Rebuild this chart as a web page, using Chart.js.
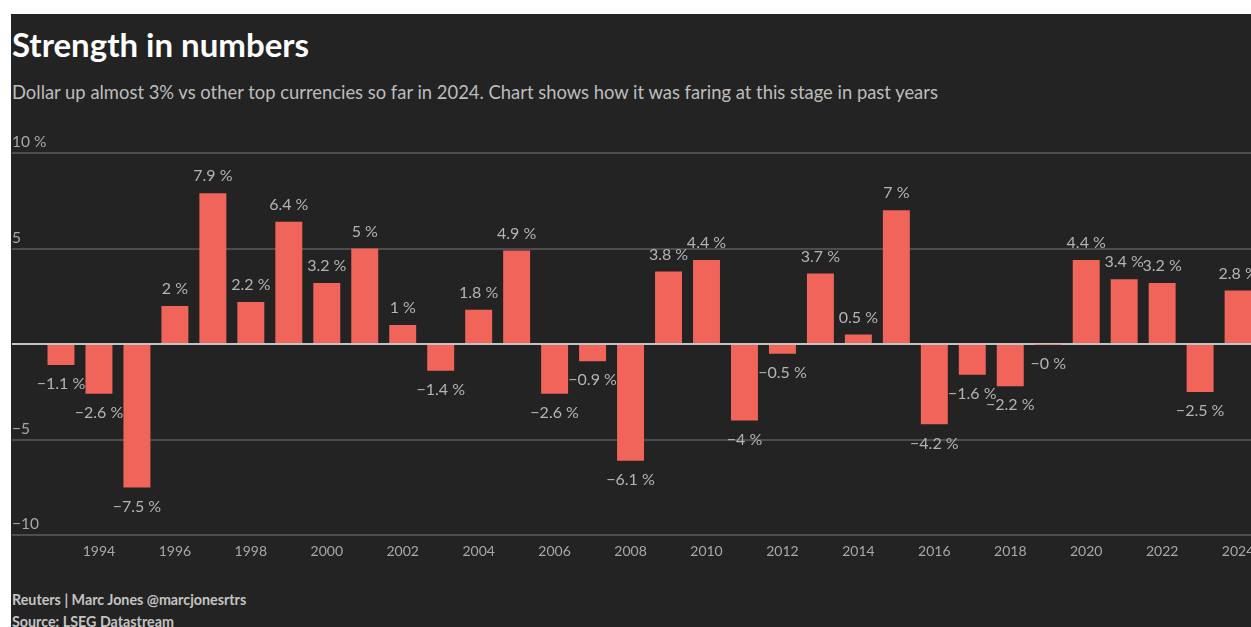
<!DOCTYPE html>
<html lang="en">
<head>
  <meta charset="UTF-8">
  <title>Strength in numbers</title>
  <script src="https://cdn.jsdelivr.net/npm/chart.js"></script>
  <style>
    body {
      margin: 0;
      background: #fff;
      font-family: Lato, "Open Sans", sans-serif;
    }
    #frame {
      position: absolute;
      left: 11px;
      top: 14px;
      width: 1240px;
      height: 613px;
      background: #232323;
      overflow: hidden;
    }
    #title {
      position: absolute;
      left: 1px;
      top: 10px;
      margin: 0;
      color: #fff;
      font-size: 33px;
      font-weight: bold;
    }
    #subtitle {
      position: absolute;
      left: 1px;
      top: 67px;
      color: #bdbdbd;
      font-size: 18.4px;
      white-space: nowrap;
    }
    #chart {
      position: absolute;
      left: 0;
      top: 106px;
    }
    .foot {
      position: absolute;
      left: 1px;
      color: #c4c4c4;
      font-size: 14.3px;
      font-weight: bold;
    }
  </style>
</head>
<body>

<div id="frame">
  <h1 id="title">Strength in numbers</h1>
  <div id="subtitle">Dollar up almost 3% vs other top currencies so far in 2024. Chart shows how it was faring at this stage in past years</div>
  <canvas id="chart" width="1300" height="448"></canvas>
  <div class="foot" style="top:577px">Reuters | Marc Jones @marcjonesrtrs</div>
  <div class="foot" style="top:599px">Source: LSEG Datastream</div>
</div>

<script>
  // dollar index change at this stage of each year, %
  const years = [1993, 1994, 1995, 1996, 1997, 1998, 1999, 2000, 2001, 2002, 2003,
    2004, 2005, 2006, 2007, 2008, 2009, 2010, 2011, 2012, 2013, 2014, 2015, 2016,
    2017, 2018, 2019, 2020, 2021, 2022, 2023, 2024];
  const changes = [-1.1, -2.6, -7.5, 2, 7.9, 2.2, 6.4, 3.2, 5, 1, -1.4,
    1.8, 4.9, -2.6, -0.9, -6.1, 3.8, 4.4, -4, -0.5, 3.7, 0.5, 7, -4.2,
    -1.6, -2.2, -0.02, 4.4, 3.4, 3.2, -2.5, 2.8];
  const yTicks = [-10, -5, 0, 5, 10];

  const BAR = "#f0645a";

  function fmt(v) {
    const r = Math.round(v * 10) / 10;
    return (v < 0 ? "\u2212" + Math.abs(r) : String(r)) + " %";
  }

  const valueLabels = {
    id: "valueLabels",
    afterDatasetsDraw(chart) {
      const ctx = chart.ctx;
      const meta = chart.getDatasetMeta(0);
      ctx.save();
      ctx.font = "16px Lato";
      ctx.fillStyle = "#b4b4b4";
      ctx.textAlign = "center";
      ctx.textBaseline = "middle";
      meta.data.forEach((bar, i) => {
        const v = changes[i];
        const y = v >= 0 ? bar.y - 17 : bar.y + 19;
        ctx.fillText(fmt(v), bar.x, y);
      });
      ctx.restore();
    }
  };

  new Chart(document.getElementById("chart"), {
    type: "bar",
    data: {
      datasets: [{
        data: years.map((yr, i) => ({ x: yr, y: changes[i] })),
        backgroundColor: BAR,
        barPercentage: 0.71,
        categoryPercentage: 1
      }]
    },
    options: {
      responsive: false,
      animation: false,
      layout: { padding: { left: 1, top: 33, right: 0, bottom: 0 } },
      plugins: { legend: { display: false }, tooltip: { enabled: false } },
      scales: {
        x: {
          type: "linear",
          offset: false,
          min: 1991.71,
          max: 2025.92,
          grid: { display: false, drawTicks: false },
          border: { display: false },
          afterBuildTicks: axis => {
            axis.ticks = axis.ticks.filter(t => t.value >= 1994 && t.value <= 2024);
          },
          ticks: {
            stepSize: 2,
            includeBounds: false,
            padding: 8,
            color: "#a8a8a8",
            font: { family: "Lato", size: 14 },
            maxRotation: 0,
            autoSkip: false,
            callback: v => String(v)
          }
        },
        y: {
          min: -10,
          max: 10,
          afterBuildTicks: axis => {
            axis.ticks = yTicks.map(v => ({ value: v }));
          },
          border: { display: false },
          grid: {
            drawTicks: false,
            color: c => c.tick.value === 0 ? "#c4c4c4" : "#4d4d4d",
            lineWidth: 2
          },
          ticks: {
            mirror: true,
            padding: 0,
            labelOffset: -11,
            color: "#a8a8a8",
            font: { family: "Lato", size: 15.5 },
            callback: v => v === 0 ? "" : v === 10 ? "10 %" : (v < 0 ? "\u2212" + Math.abs(v) : String(v))
          }
        }
      }
    },
    plugins: [valueLabels]
  });
</script>

</body>
</html>
